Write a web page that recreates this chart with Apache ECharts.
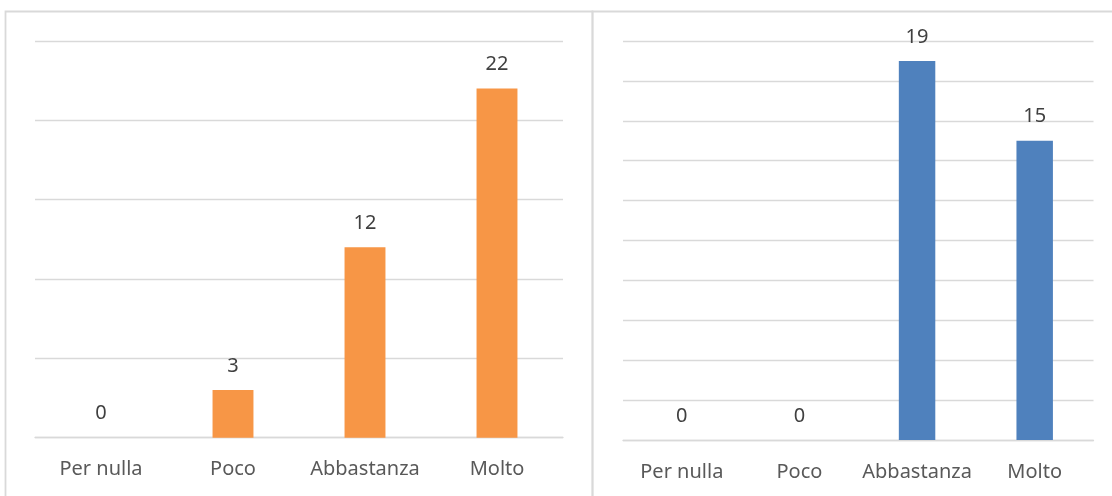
<!DOCTYPE html>
<html>
<head>
<meta charset="utf-8">
<script src="https://cdn.jsdelivr.net/npm/echarts@6/dist/echarts.min.js"></script>
<style>
  html, body { margin: 0; padding: 0; background: #ffffff; }
  #chart { width: 1112px; height: 496px; }
</style>
</head>
<body>
<div id="chart"></div>
<script>
// Answer categories shared by both panels
const categories = ['Per nulla', 'Poco', 'Abbastanza', 'Molto'];
// Counts per answer, left panel (orange) and right panel (blue)
const leftValues = [0, 3, 12, 22];
const rightValues = [0, 0, 19, 15];

const FONT = '"Noto Sans", "Open Sans", sans-serif';
const GRID_COLOR = '#d9d9d9';
const AXIS_TEXT = '#595959';
const LABEL_TEXT = '#404040';

function catAxis(gridIndex) {
  return {
    type: 'category',
    gridIndex: gridIndex,
    data: categories,
    axisLine: { show: true, lineStyle: { color: GRID_COLOR, width: 1.3 } },
    axisTick: { show: false },
    axisLabel: { interval: 0, color: AXIS_TEXT, fontFamily: FONT, fontSize: 20, margin: 22 }
  };
}

function valAxis(gridIndex, max, interval) {
  return {
    type: 'value',
    gridIndex: gridIndex,
    min: 0,
    max: max,
    interval: interval,
    axisLine: { show: false },
    axisTick: { show: false },
    axisLabel: { show: false },
    splitLine: { show: true, lineStyle: { color: GRID_COLOR, width: 1.3 } }
  };
}

function barSeries(idx, values, color) {
  return {
    type: 'bar',
    xAxisIndex: idx,
    yAxisIndex: idx,
    data: values,
    barWidth: '31%',
    itemStyle: { color: color },
    label: {
      show: true,
      position: 'top',
      distance: 14,
      color: LABEL_TEXT,
      fontFamily: FONT,
      fontSize: 20
    }
  };
}

const chart = echarts.init(document.getElementById('chart'), null, { renderer: 'canvas' });
chart.setOption({
  animation: false,
  backgroundColor: '#ffffff',
  graphic: [
    // panel frames
    { type: 'rect', shape: { x: 5.5, y: 11.5, width: 587, height: 500 },
      style: { fill: 'none', stroke: '#d9d9d9', lineWidth: 1.8 }, silent: true },
    { type: 'rect', shape: { x: 592.5, y: 11.5, width: 530, height: 500 },
      style: { fill: 'none', stroke: '#d9d9d9', lineWidth: 1.8 }, silent: true }
  ],
  grid: [
    { left: 35, right: 549, top: 41, bottom: 58.3 },
    { left: 623, right: 18.5, top: 41, bottom: 56 }
  ],
  xAxis: [catAxis(0), catAxis(1)],
  yAxis: [valAxis(0, 25, 5), valAxis(1, 20, 2)],
  series: [
    barSeries(0, leftValues, '#f79646'),
    barSeries(1, rightValues, '#4f81bd')
  ]
});
</script>
</body>
</html>
